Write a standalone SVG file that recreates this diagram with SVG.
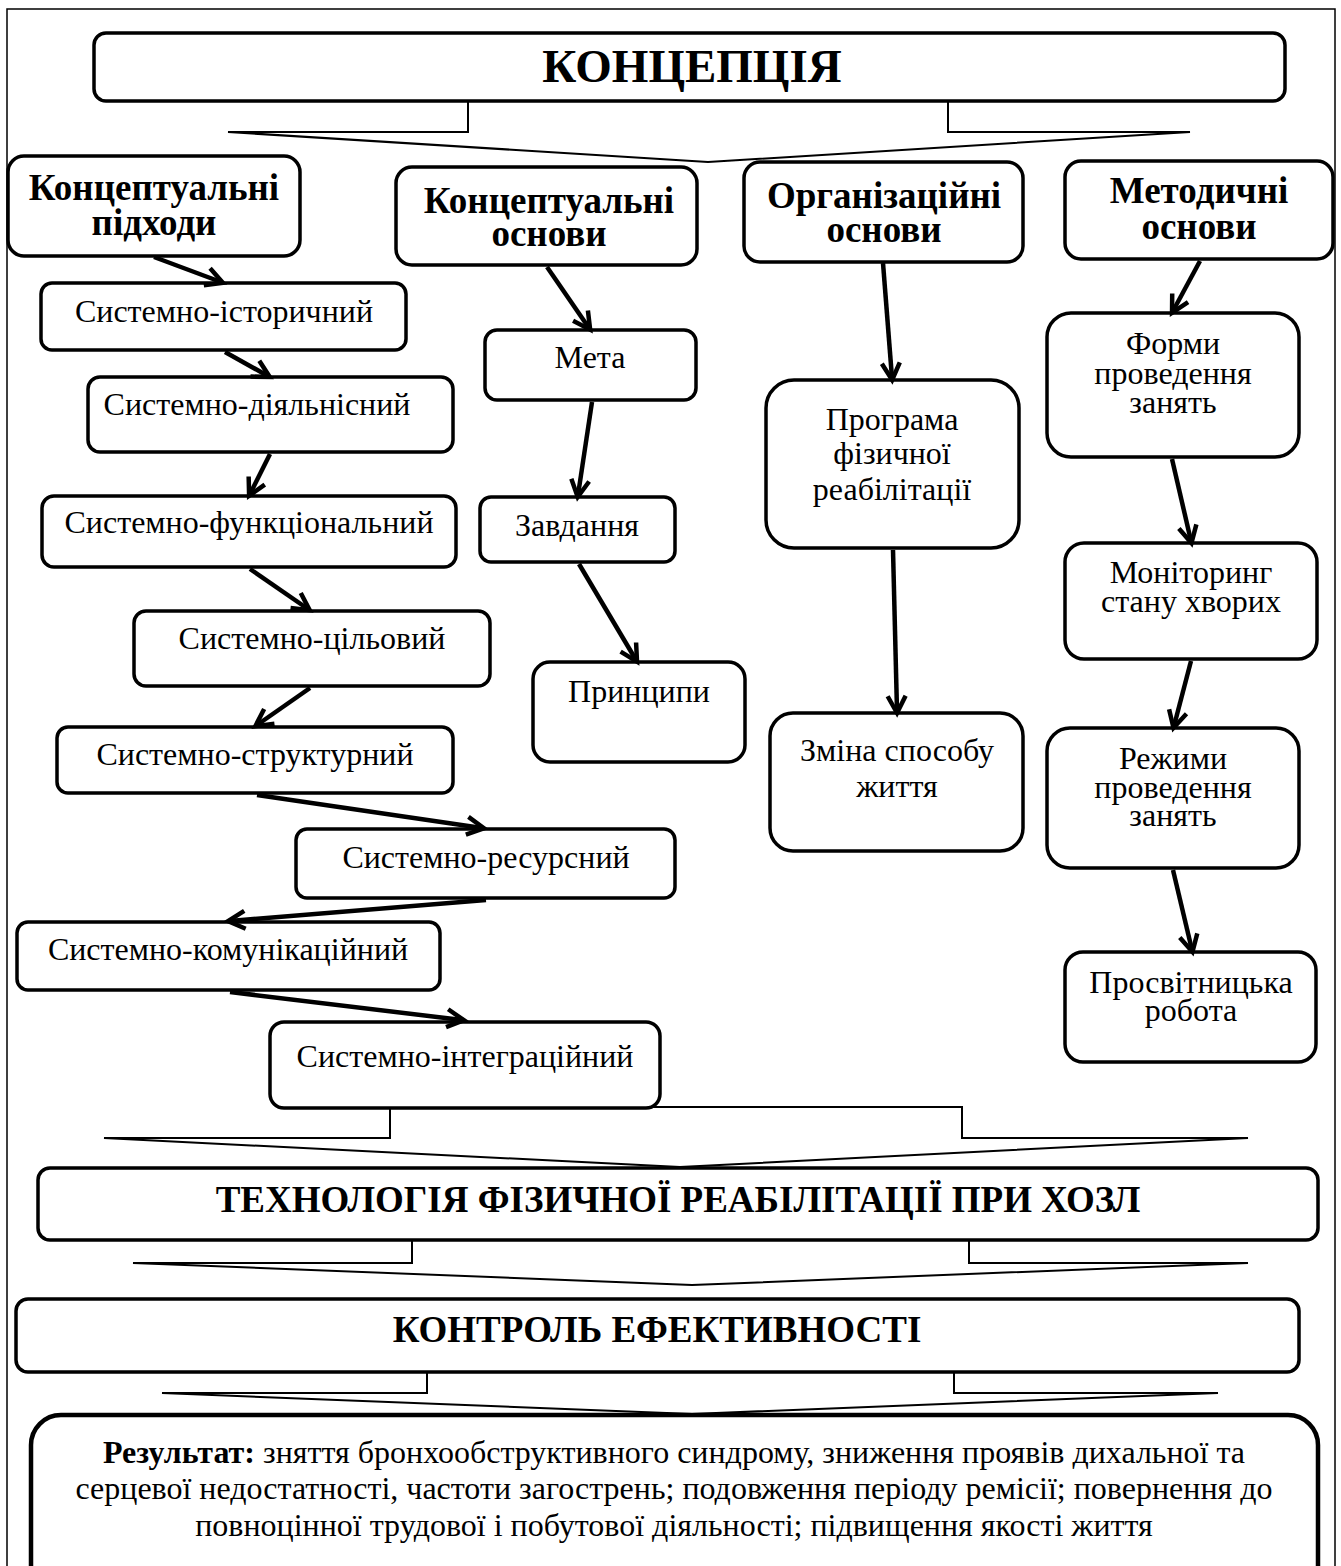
<svg xmlns="http://www.w3.org/2000/svg" width="1341" height="1566" viewBox="0 0 1341 1566">
<style>
.bx{fill:#fff;stroke:#000;stroke-width:3.5}
.fr{fill:none;stroke:#000;stroke-width:1.5}
.ar{fill:#fff;stroke:#000;stroke-width:2;stroke-linejoin:miter}
.t{font-family:"Liberation Serif","Times New Roman",serif;font-size:32px;text-anchor:middle;fill:#000}
.h{font-weight:bold;font-size:37px}
.ti{font-weight:bold;font-size:47px}
.c{stroke:#000;stroke-width:4.5;fill:none;marker-end:url(#ah)}
</style>
<defs>
<marker id="ah" markerUnits="userSpaceOnUse" viewBox="0 0 24 24" refX="17" refY="12" markerWidth="24" markerHeight="24" orient="auto">
<path d="M2,3 L19,12 L2,21" fill="none" stroke="#000" stroke-width="4.5" stroke-linejoin="miter"/>
</marker>
</defs>
<rect x="7" y="9" width="1328" height="1620" class="fr"/>
<g id="block-arrows">
<polygon class="ar" points="468,101 948,101 948,132 1190,132 708,162 228,132 468,132"/>
<polygon class="ar" points="390,1107 962,1107 962,1138 1248,1138 680,1167 104,1138 390,1138"/>
<polygon class="ar" points="412,1240 969,1240 969,1263 1248,1263 692,1285 133,1263 412,1263"/>
<polygon class="ar" points="427,1372 954,1372 954,1393 1218,1393 692,1414 162,1393 427,1393"/>
</g>
<g id="n-concept"><rect class="bx" x="94" y="33" width="1191" height="68" rx="12"/><text class="t ti" x="692" y="82">КОНЦЕПЦІЯ</text></g>
<g id="n-approaches"><rect class="bx" x="8" y="156" width="292" height="100" rx="16"/><text class="t h" x="154" y="200">Концептуальні</text><text class="t h" x="154" y="235">підходи</text></g>
<g id="n-conc-bases"><rect class="bx" x="396" y="167" width="301" height="98" rx="16"/><text class="t h" x="549" y="213">Концептуальні</text><text class="t h" x="549" y="246">основи</text></g>
<g id="n-org-bases"><rect class="bx" x="744" y="162" width="279" height="100" rx="16"/><text class="t h" x="884" y="208">Організаційні</text><text class="t h" x="884" y="242">основи</text></g>
<g id="n-meth-bases"><rect class="bx" x="1065" y="161" width="268" height="98" rx="16"/><text class="t h" x="1199" y="203">Методичні</text><text class="t h" x="1199" y="239">основи</text></g>
<g id="n-hist"><rect class="bx" x="41" y="283" width="365" height="67" rx="11"/><text class="t" x="224" y="322">Системно-історичний</text></g>
<g id="n-act"><rect class="bx" x="88" y="377" width="365" height="75" rx="12"/><text class="t" x="257" y="415">Системно-діяльнісний</text></g>
<g id="n-func"><rect class="bx" x="42" y="496" width="414" height="71" rx="12"/><text class="t" x="249" y="533">Системно-функціональний</text></g>
<g id="n-goal"><rect class="bx" x="134" y="611" width="356" height="75" rx="12"/><text class="t" x="312" y="649">Системно-цільовий</text></g>
<g id="n-struct"><rect class="bx" x="57" y="727" width="396" height="66" rx="11"/><text class="t" x="255" y="765">Системно-структурний</text></g>
<g id="n-res"><rect class="bx" x="296" y="829" width="379" height="69" rx="11"/><text class="t" x="486" y="868">Системно-ресурсний</text></g>
<g id="n-comm"><rect class="bx" x="17" y="922" width="423" height="68" rx="11"/><text class="t" x="228" y="960">Системно-комунікаційний</text></g>
<g id="n-integ"><rect class="bx" x="270" y="1022" width="390" height="86" rx="14"/><text class="t" x="465" y="1067">Системно-інтеграційний</text></g>
<g id="n-meta"><rect class="bx" x="485" y="330" width="211" height="70" rx="12"/><text class="t" x="590" y="368">Мета</text></g>
<g id="n-tasks"><rect class="bx" x="480" y="497" width="195" height="65" rx="11"/><text class="t" x="577" y="536">Завдання</text></g>
<g id="n-princ"><rect class="bx" x="533" y="662" width="212" height="100" rx="17"/><text class="t" x="639" y="702">Принципи</text></g>
<g id="n-program"><rect class="bx" x="766" y="380" width="253" height="168" rx="28"/><text class="t" x="892" y="430">Програма</text><text class="t" x="892" y="464">фізичної</text><text class="t" x="892" y="500">реабілітації</text></g>
<g id="n-lifestyle"><rect class="bx" x="770" y="713" width="253" height="138" rx="23"/><text class="t" x="897" y="761">Зміна способу</text><text class="t" x="897" y="797">життя</text></g>
<g id="n-forms"><rect class="bx" x="1047" y="313" width="252" height="144" rx="24"/><text class="t" x="1173" y="354">Форми</text><text class="t" x="1173" y="384">проведення</text><text class="t" x="1173" y="413">занять</text></g>
<g id="n-monitor"><rect class="bx" x="1065" y="543" width="252" height="116" rx="19"/><text class="t" x="1191" y="583">Моніторинг</text><text class="t" x="1191" y="612">стану хворих</text></g>
<g id="n-modes"><rect class="bx" x="1047" y="728" width="252" height="140" rx="23"/><text class="t" x="1173" y="769">Режими</text><text class="t" x="1173" y="798">проведення</text><text class="t" x="1173" y="826">занять</text></g>
<g id="n-edu"><rect class="bx" x="1065" y="952" width="251" height="110" rx="18"/><text class="t" x="1191" y="993">Просвітницька</text><text class="t" x="1191" y="1021">робота</text></g>
<g id="n-tech"><rect class="bx" x="38" y="1168" width="1280" height="72" rx="12"/><text class="t h" x="678" y="1212">ТЕХНОЛОГІЯ ФІЗИЧНОЇ РЕАБІЛІТАЦІЇ ПРИ ХОЗЛ</text></g>
<g id="n-control"><rect class="bx" x="16" y="1299" width="1283" height="73" rx="12"/><text class="t h" x="657" y="1342">КОНТРОЛЬ ЕФЕКТИВНОСТІ</text></g>
<g id="n-result"><rect class="bx" x="31" y="1415" width="1287" height="220" rx="30" style="stroke-width:4.5"/>
<text class="t" x="674" y="1463"><tspan font-weight="bold">Результат:</tspan> зняття бронхообструктивного синдрому, зниження проявів дихальної та</text>
<text class="t" x="674" y="1499">серцевої недостатності, частоти загострень; подовження періоду ремісії; повернення до</text>
<text class="t" x="674" y="1536">повноцінної трудової і побутової діяльності; підвищення якості життя</text></g>
<g id="connectors">
<line class="c" x1="154" y1="257" x2="221" y2="282"/>
<line class="c" x1="225" y1="352" x2="268" y2="376"/>
<line class="c" x1="270" y1="454" x2="250" y2="494"/>
<line class="c" x1="250" y1="569" x2="308" y2="609"/>
<line class="c" x1="310" y1="688" x2="257" y2="725"/>
<line class="c" x1="257" y1="795" x2="482" y2="828"/>
<line class="c" x1="486" y1="900" x2="230" y2="921"/>
<line class="c" x1="230" y1="992" x2="462" y2="1020"/>
<line class="c" x1="547" y1="267" x2="589" y2="328"/>
<line class="c" x1="592" y1="402" x2="578" y2="495"/>
<line class="c" x1="579" y1="564" x2="636" y2="660"/>
<line class="c" x1="883" y1="263" x2="892" y2="378"/>
<line class="c" x1="893" y1="550" x2="897" y2="711"/>
<line class="c" x1="1200" y1="261" x2="1173" y2="311"/>
<line class="c" x1="1172" y1="459" x2="1191" y2="541"/>
<line class="c" x1="1191" y1="661" x2="1174" y2="726"/>
<line class="c" x1="1173" y1="870" x2="1192" y2="950"/>
</g>
</svg>
